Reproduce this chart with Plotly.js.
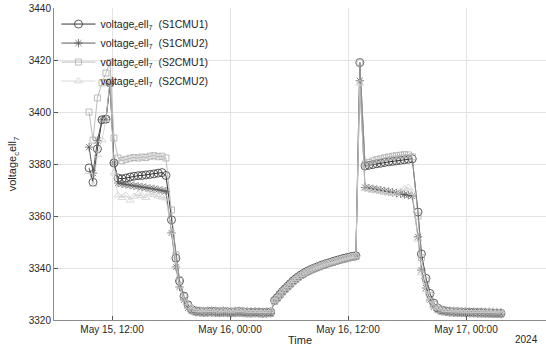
<!DOCTYPE html>
<html>
<head>
<meta charset="utf-8">
<script src="https://cdn.plot.ly/plotly-3.0.1.min.js"></script>
<style>html,body{margin:0;padding:0;background:#fff;}#chart{width:546px;height:352px;}</style>
</head>
<body>
<div id="chart"></div>
<script>
const times = [
"2024-05-15 09:40","2024-05-15 10:04","2024-05-15 10:31","2024-05-15 10:59","2024-05-15 11:23","2024-05-15 11:48","2024-05-15 12:12","2024-05-15 12:37",
"2024-05-15 13:01","2024-05-15 13:25","2024-05-15 13:50","2024-05-15 14:14","2024-05-15 14:39","2024-05-15 15:03","2024-05-15 15:27","2024-05-15 15:52","2024-05-15 16:16","2024-05-15 16:41","2024-05-15 17:05","2024-05-15 17:29",
"2024-05-15 18:03","2024-05-15 18:30","2024-05-15 18:52","2024-05-15 19:19","2024-05-15 19:44",
"2024-05-15 20:08","2024-05-15 20:32","2024-05-15 20:56","2024-05-15 21:20","2024-05-15 21:44","2024-05-15 22:08","2024-05-15 22:32","2024-05-15 22:56","2024-05-15 23:20","2024-05-15 23:44",
"2024-05-16 00:08","2024-05-16 00:32","2024-05-16 00:56","2024-05-16 01:20","2024-05-16 01:44","2024-05-16 02:08","2024-05-16 02:32","2024-05-16 02:56","2024-05-16 03:20","2024-05-16 03:44","2024-05-16 04:08",
"2024-05-16 04:32","2024-05-16 04:48","2024-05-16 05:04","2024-05-16 05:20","2024-05-16 05:36","2024-05-16 05:52","2024-05-16 06:08","2024-05-16 06:24","2024-05-16 06:40","2024-05-16 06:56",
"2024-05-16 07:12","2024-05-16 07:28","2024-05-16 07:44","2024-05-16 08:00","2024-05-16 08:16","2024-05-16 08:32","2024-05-16 08:48","2024-05-16 09:04","2024-05-16 09:20","2024-05-16 09:36",
"2024-05-16 09:52","2024-05-16 10:08","2024-05-16 10:24","2024-05-16 10:40","2024-05-16 10:56","2024-05-16 11:12","2024-05-16 11:28","2024-05-16 11:44","2024-05-16 12:00","2024-05-16 12:16",
"2024-05-16 12:32","2024-05-16 12:48",
"2024-05-16 13:12",
"2024-05-16 13:44","2024-05-16 14:08","2024-05-16 14:32","2024-05-16 14:56","2024-05-16 15:20","2024-05-16 15:44","2024-05-16 16:08","2024-05-16 16:32","2024-05-16 16:56","2024-05-16 17:20","2024-05-16 17:44","2024-05-16 18:08","2024-05-16 18:32",
"2024-05-16 19:07","2024-05-16 19:28","2024-05-16 19:56","2024-05-16 20:20","2024-05-16 20:44",
"2024-05-16 21:09","2024-05-16 21:33","2024-05-16 21:57","2024-05-16 22:21","2024-05-16 22:45","2024-05-16 23:09","2024-05-16 23:33","2024-05-16 23:57",
"2024-05-17 00:21","2024-05-17 00:45","2024-05-17 01:09","2024-05-17 01:33","2024-05-17 01:57","2024-05-17 02:21","2024-05-17 02:45","2024-05-17 03:09","2024-05-17 03:33"
];

const s1cmu1 = [
3378.5,3373.0,3385.8,3397.0,3397.3,3411.2,3380.4,3374.6,
3374.3,3374.6,3375.0,3375.3,3375.5,3375.6,3375.8,3376.0,3376.2,3376.5,3376.7,3375.6,
3358.5,3343.8,3335.0,3329.2,3325.8,
3324.0,3323.5,3323.3,3323.2,3323.3,3323.4,3323.3,3323.2,3323.3,3323.2,3323.1,3323.2,3323.3,3323.2,3323.1,3323.0,3323.1,3323.0,3322.9,3323.0,3323.1,
3327.5,3328.6,3329.8,3331.0,3332.0,3333.0,3334.0,3335.0,3335.8,3336.6,3337.3,3337.9,3338.5,3339.0,3339.5,3339.9,3340.3,3340.7,3341.1,3341.4,3341.8,3342.1,3342.4,3342.7,3343.0,3343.3,3343.6,3343.8,3344.1,3344.3,3344.5,3344.7,
3419.0,
3379.2,3379.5,3379.8,3380.1,3380.3,3380.6,3380.8,3381.0,3381.2,3381.4,3381.6,3381.8,3382.0,
3361.5,3345.4,3336.0,3330.2,3326.5,
3324.5,3323.8,3323.5,3323.3,3323.2,3323.2,3323.1,3323.1,3323.0,3323.0,3322.9,3322.9,3322.8,3322.8,3322.7,3322.7,3322.6
];

const s1cmu2 = [
3386.5,3376.5,3389.0,3397.0,3397.0,3411.0,3380.4,3372.7,
3372.4,3372.1,3371.9,3371.6,3371.4,3371.1,3370.9,3370.6,3370.4,3370.1,3369.8,3369.5,
3353.5,3340.4,3332.7,3327.7,3324.6,
3323.5,3323.0,3322.9,3322.8,3322.8,3322.9,3322.8,3322.7,3322.8,3322.7,3322.6,3322.7,3322.8,3322.7,3322.6,3322.5,3322.6,3322.5,3322.4,3322.5,3322.6,
3327.3,3328.5,3329.7,3330.9,3331.9,3332.9,3333.9,3334.9,3335.7,3336.5,3337.2,3337.8,3338.4,3338.9,3339.4,3339.8,3340.2,3340.6,3341.0,3341.3,3341.7,3342.0,3342.3,3342.6,3342.9,3343.2,3343.5,3343.7,3344.0,3344.2,3344.4,3344.6,
3412.0,
3371.0,3370.7,3370.4,3370.2,3369.9,3369.6,3369.4,3369.1,3368.8,3368.6,3368.3,3368.0,3367.7,
3352.0,3339.2,3332.3,3327.7,3325.0,
3323.8,3323.3,3323.1,3322.9,3322.8,3322.8,3322.7,3322.7,3322.6,3322.6,3322.5,3322.5,3322.5,3322.4,3322.4,3322.4,3322.3
];

const s2cmu1 = [
3400.0,3389.2,3405.4,3411.2,3415.0,3419.0,3390.0,3382.3,
3381.3,3381.8,3382.2,3382.5,3382.3,3382.7,3382.5,3383.0,3383.2,3382.8,3383.0,3382.3,
3362.3,3345.0,3335.5,3329.0,3325.5,
3323.6,3323.0,3322.8,3322.6,3322.7,3322.8,3322.6,3322.5,3322.7,3322.6,3322.5,3322.6,3322.7,3322.5,3322.4,3322.4,3322.5,3322.4,3322.3,3322.4,3322.5,
3327.2,3328.4,3329.6,3330.8,3331.8,3332.8,3333.8,3334.8,3335.6,3336.4,3337.1,3337.7,3338.3,3338.8,3339.3,3339.7,3340.1,3340.5,3340.9,3341.2,3341.6,3341.9,3342.2,3342.5,3342.8,3343.1,3343.4,3343.6,3343.9,3344.1,3344.3,3344.5,
3419.2,
3380.0,3380.6,3381.2,3381.7,3382.0,3382.4,3382.7,3383.0,3383.2,3383.4,3383.6,3383.5,3382.8,
3360.0,3344.0,3335.0,3329.5,3326.0,
3324.0,3323.3,3323.0,3322.8,3322.7,3322.6,3322.6,3322.5,3322.5,3322.4,3322.4,3322.3,3322.3,3322.3,3322.2,3322.2,3322.2
];

const s2cmu2 = [
3377.0,3372.0,3383.5,3389.2,3397.0,3413.0,3376.5,3368.0,
3367.0,3368.0,3366.0,3367.5,3368.5,3367.8,3367.0,3368.8,3368.2,3367.6,3367.2,3366.8,
3354.0,3341.0,3333.0,3328.0,3325.2,
3324.5,3324.0,3323.9,3323.8,3323.9,3324.0,3323.8,3323.7,3323.9,3323.8,3323.7,3323.8,3323.9,3323.8,3323.7,3323.6,3323.7,3323.6,3323.5,3323.6,3323.7,
3327.6,3328.7,3329.9,3331.1,3332.1,3333.1,3334.1,3335.1,3335.9,3336.7,3337.4,3338.0,3338.6,3339.1,3339.6,3340.0,3340.4,3340.8,3341.2,3341.5,3341.9,3342.2,3342.5,3342.8,3343.1,3343.4,3343.7,3343.9,3344.2,3344.4,3344.6,3344.8,
3411.0,
3370.5,3370.2,3369.8,3369.6,3369.3,3369.0,3368.8,3368.5,3368.6,3369.5,3370.5,3371.0,3369.0,
3351.0,3338.0,3331.5,3327.5,3325.0,
3324.8,3324.2,3324.0,3323.9,3323.8,3323.8,3323.7,3323.7,3323.7,3323.6,3323.6,3323.6,3323.5,3323.5,3323.5,3323.4,3323.4
];

const seriesNames = [
  "voltage<sub>c</sub>ell<sub>7</sub>  (S1CMU1)",
  "voltage<sub>c</sub>ell<sub>7</sub>  (S1CMU2)",
  "voltage<sub>c</sub>ell<sub>7</sub>  (S2CMU1)",
  "voltage<sub>c</sub>ell<sub>7</sub>  (S2CMU2)"
];
const xTickVals = ["2024-05-15 12:00","2024-05-16 00:00","2024-05-16 12:00","2024-05-17 00:00"];
const xTickText = ["May 15, 12:00","May 16, 00:00","May 16, 12:00","May 17, 00:00"];
const yTickVals = [3320,3340,3360,3380,3400,3420,3440];

const styles = [
  {color:"#333333", symbol:"circle-open", size:8, width:1},
  {color:"#5a5a5a", symbol:"asterisk-open", size:7, width:1},
  {color:"#ababab", symbol:"square-open", size:6, width:0.8},
  {color:"#cfcfcf", symbol:"triangle-up-open", size:7, width:0.8}
];
const ys = [s1cmu1, s1cmu2, s2cmu1, s2cmu2];

const traces = ys.map((y,i)=>({
  x: times, y: y, type:"scatter", mode:"lines+markers", name: seriesNames[i],
  line:{color:styles[i].color, width:styles[i].width},
  marker:{symbol:styles[i].symbol, size:styles[i].size, color:styles[i].color, line:{color:styles[i].color, width:0.8}}
}));

const font = "Liberation Sans, Arial, Helvetica, sans-serif";
const layout = {
  width:546, height:352,
  margin:{l:54, r:0, t:8, b:32},
  paper_bgcolor:"#ffffff", plot_bgcolor:"#ffffff",
  font:{family:font, size:10, color:"#262626"},
  showlegend:true,
  legend:{x:0.005, y:0.995, xanchor:"left", yanchor:"top", bgcolor:"rgba(255,255,255,0)", borderwidth:0, itemwidth:34, font:{size:10.5, color:"#262626"}},
  xaxis:{
    type:"date",
    range:["2024-05-15 06:06","2024-05-17 08:08"],
    tickvals:xTickVals, ticktext:xTickText,
    ticks:"inside", ticklen:4, tickcolor:"#555",
    showline:true, linecolor:"#8c8c8c", linewidth:1,
    showgrid:true, gridcolor:"#e3e3e3", gridwidth:1,
    zeroline:false,
    tickfont:{size:10, color:"#262626"},
    title:{text:"Time", font:{size:11, color:"#262626"}, standoff:2}
  },
  yaxis:{
    range:[3320,3440], tickvals:yTickVals,
    ticks:"inside", ticklen:4, tickcolor:"#555",
    showline:true, linecolor:"#8c8c8c", linewidth:1,
    showgrid:true, gridcolor:"#e3e3e3", gridwidth:1,
    zeroline:false,
    tickfont:{size:10, color:"#262626"},
    title:{text:"voltage<sub>c</sub>ell<sub>7</sub>", font:{size:11, color:"#262626"}, standoff:9}
  },
  annotations:[
    {text:"2024", xref:"paper", yref:"paper", x:1, y:-0.064, xanchor:"right", yanchor:"middle", xshift:-6, showarrow:false, font:{size:10, color:"#262626"}}
  ]
};

Plotly.newPlot("chart", traces, layout, {displayModeBar:false, staticPlot:true});
</script>
</body>
</html>
